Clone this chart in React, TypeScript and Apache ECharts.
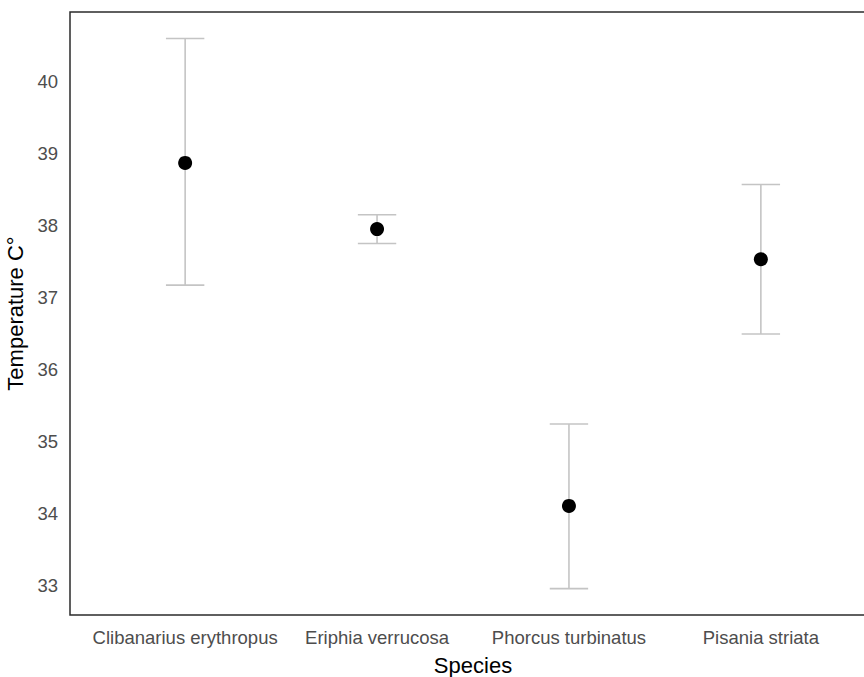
import React, { useEffect, useRef } from "react";
import * as echarts from "echarts";

const categories = [
  "Clibanarius erythropus",
  "Eriphia verrucosa",
  "Phorcus turbinatus",
  "Pisania striata",
];
const means = [38.87, 37.95, 34.1, 37.53];
const lows = [37.17, 37.75, 32.95, 36.49];
const highs = [40.6, 38.15, 35.24, 38.57];
const yTicks = [33, 34, 35, 36, 37, 38, 39, 40];

const FONT = "'Liberation Sans', Arial, sans-serif";

export default function App() {
  const ref = useRef<HTMLDivElement>(null);
  useEffect(() => {
    if (!ref.current) return;
    const chart = echarts.init(ref.current, null, { renderer: "svg" });
    const xs = categories.map((_, i) => i + 1);
    chart.setOption({
      animation: false,
      backgroundColor: "#ffffff",
      grid: {
        left: 70,
        top: 12,
        width: 806,
        height: 603,
        outerBoundsMode: "none",
        containLabel: false,
        show: true,
        borderColor: "#2b2b2b",
        borderWidth: 1.5,
        backgroundColor: "transparent",
      },
      xAxis: {
        type: "value",
        min: 0.4,
        max: 4.6,
        name: "Species",
        nameLocation: "middle",
        nameGap: 39,
        nameTextStyle: { fontSize: 22, color: "#000000", fontFamily: FONT },
        axisLine: { show: false },
        axisTick: { show: false },
        splitLine: { show: false },
        axisLabel: {
          customValues: xs,
          formatter: (v: number) => categories[Math.round(v) - 1] ?? "",
          fontSize: 18.5,
          color: "#4d4d4d",
          fontFamily: FONT,
          margin: 13,
        },
      },
      yAxis: {
        type: "value",
        min: 32.583,
        max: 40.969,
        name: "Temperature C°",
        nameLocation: "middle",
        nameGap: 37,
        nameTextStyle: { fontSize: 22, color: "#000000", fontFamily: FONT },
        axisLine: { show: false },
        axisTick: { show: false },
        splitLine: { show: false },
        axisLabel: {
          customValues: yTicks,
          fontSize: 18.5,
          color: "#4d4d4d",
          fontFamily: FONT,
          margin: 12,
        },
      },
      series: [
        {
          type: "custom",
          data: xs.map((x, i) => [x, lows[i], highs[i]]),
          renderItem: (params: any, api: any) => {
            const x = api.value(0);
            const lo = api.coord([x, api.value(1)]);
            const hi = api.coord([x, api.value(2)]);
            const half = api.size([0.2, 0])[0] / 2;
            const style = { stroke: "#c4c4c4", lineWidth: 1.6, fill: "none" };
            return {
              type: "group",
              children: [
                { type: "line", shape: { x1: lo[0], y1: lo[1], x2: hi[0], y2: hi[1] }, style },
                { type: "line", shape: { x1: hi[0] - half, y1: hi[1], x2: hi[0] + half, y2: hi[1] }, style },
                { type: "line", shape: { x1: lo[0] - half, y1: lo[1], x2: lo[0] + half, y2: lo[1] }, style },
              ],
            };
          },
          z: 1,
        },
        {
          type: "scatter",
          data: xs.map((x, i) => [x, means[i]]),
          symbol: "circle",
          symbolSize: 14,
          itemStyle: { color: "#000000", opacity: 1 },
          z: 2,
        },
      ],
    });
    return () => chart.dispose();
  }, []);
  return (
    <div
      ref={ref}
      style={{ position: "fixed", left: 0, top: 0, width: 900, height: 677 }}
    />
  );
}
